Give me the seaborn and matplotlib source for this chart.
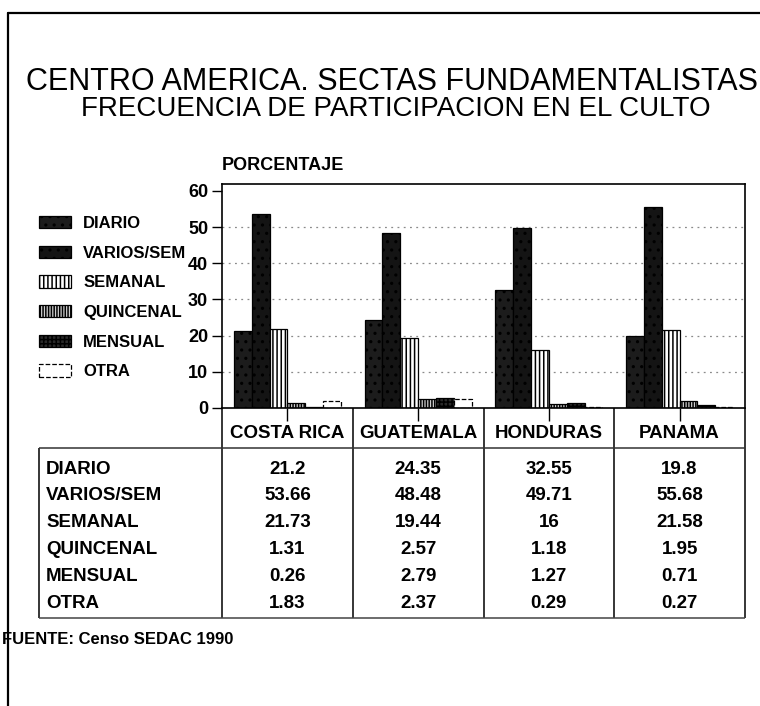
import numpy as np
import pandas as pd
import matplotlib
matplotlib.use("Agg")
import matplotlib.pyplot as plt
import seaborn as sns

# ---------------- data ----------------
paises = ["COSTA RICA", "GUATEMALA", "HONDURAS", "PANAMA"]
frecuencias = ["DIARIO", "VARIOS/SEM", "SEMANAL", "QUINCENAL", "MENSUAL", "OTRA"]
diario = [21.2, 24.35, 32.55, 19.8]
varios_sem = [53.66, 48.48, 49.71, 55.68]
semanal = [21.73, 19.44, 16, 21.58]
quincenal = [1.31, 2.57, 1.18, 1.95]
mensual = [0.26, 2.79, 1.27, 0.71]
otra = [1.83, 2.37, 0.29, 0.27]
y_ticks = [0, 10, 20, 30, 40, 50, 60]

titulo1 = "CENTRO AMERICA. SECTAS FUNDAMENTALISTAS"
titulo2 = "FRECUENCIA DE PARTICIPACION EN EL CULTO"
ylabel = "PORCENTAJE"
fuente = "FUENTE: Censo SEDAC 1990"

series = [diario, varios_sem, semanal, quincenal, mensual, otra]
rows = []
for f, vals in zip(frecuencias, series):
    for p, v in zip(paises, vals):
        rows.append({"pais": p, "freq": f, "pct": v})
df = pd.DataFrame(rows)

# ---------------- style ----------------
sns.set_theme(style="white")
plt.rcParams["font.family"] = ["Liberation Sans", "DejaVu Sans"]
plt.rcParams["hatch.linewidth"] = 1.1
for k in ["text.color", "axes.labelcolor", "xtick.color", "ytick.color",
          "axes.edgecolor"]:
    plt.rcParams[k] = "black"

W, H = 760, 706
fig = plt.figure(figsize=(W / 100, H / 100), dpi=100)
fig.patch.set_facecolor("white")

def fx(px):
    return px / W

def fy(py):
    return 1 - py / H

# page frame (top and left)
fig.add_artist(plt.Line2D([fx(8), 1.0], [fy(13), fy(13)], color="black", lw=1.6))
fig.add_artist(plt.Line2D([fx(8), fx(8)], [fy(13), 0.0], color="black", lw=1.6))

# titles
fig.text(fx(392), fy(82), titulo1, ha="center", va="center", fontsize=22)
fig.text(fx(396), fy(108.5), titulo2, ha="center", va="center", fontsize=20)

# ---------------- bar chart ----------------
ax_l, ax_r, ax_t, ax_b = 222, 745, 184, 408
ax = fig.add_axes([fx(ax_l), fy(ax_b), fx(ax_r - ax_l), (ax_b - ax_t) / H])

styles = {
    "DIARIO":     dict(fc="#1c1c1c", hatch="..", hc="#8a8a8a", ls="-"),
    "VARIOS/SEM": dict(fc="#141414", hatch="..", hc="#777777", ls="-"),
    "SEMANAL":    dict(fc="white", hatch="||||", hc="black", ls="-"),
    "QUINCENAL":  dict(fc="#cfcfcf", hatch="||||||", hc="black", ls="-"),
    "MENSUAL":    dict(fc="#2a2a2a", hatch="++++", hc="#bbbbbb", ls="-"),
    "OTRA":       dict(fc="white", hatch="", hc="black", ls="--"),
}

sns.barplot(data=df, x="pais", y="pct", hue="freq", order=paises,
            hue_order=frecuencias, ax=ax, width=0.82, legend=False,
            palette=["#1c1c1c"] * len(frecuencias), edgecolor="black",
            linewidth=0.9, saturation=1)

for cont, f in zip(ax.containers, frecuencias):
    st = styles[f]
    for p in cont.patches:
        p.set_facecolor(st["fc"])
        p.set_edgecolor("black")
        p.set_hatch(st["hatch"])
        p.set_linestyle(st["ls"])
        try:
            p.set_hatchcolor(st["hc"])
        except AttributeError:
            pass

ax.set_xlim(-0.5, len(paises) - 0.5)
ax.set_ylim(0, 61.9)
ax.set_yticks(y_ticks)
ax.set_yticklabels([str(t) for t in y_ticks], fontsize=13, fontweight="bold")
ax.set_xticks(range(len(paises)))
ax.set_xticklabels([])
ax.set_xlabel("")
ax.set_ylabel("")
ax.tick_params(axis="y", direction="out", length=7, width=1, color="black", pad=3,
               left=True)
ax.tick_params(axis="x", direction="out", length=9, width=1, color="black",
               bottom=True)
for s in ax.spines.values():
    s.set_visible(True)
    s.set_color("black")
    s.set_linewidth(1.2)
ax.set_axisbelow(True)
ax.yaxis.grid(True, linestyle=(0, (1.5, 3.5)), color="#8a8a8a", linewidth=0.9)
gl = ax.get_ygridlines()
gl[0].set_visible(False)
gl[-1].set_visible(False)
ax.xaxis.grid(False)

fig.text(fx(222), fy(166), ylabel, ha="left", va="center", fontsize=13,
         fontweight="bold")

# legend
handles = [c.patches[0] for c in ax.containers]
leg = fig.legend(handles, frecuencias, loc="upper left",
                 bbox_to_anchor=(fx(39), fy(216)), bbox_transform=fig.transFigure,
                 frameon=False, borderpad=0, borderaxespad=0,
                 handlelength=1.9, handleheight=0.75, handletextpad=0.75,
                 labelspacing=0.88, prop={"size": 12, "weight": "bold"})

# ---------------- data table ----------------
tbl_left, tbl_bottom = 39, 618
px_per_cat = (ax_r - ax_l) / len(paises)
row0, pitch = 469, 26.8
tax = fig.add_axes([fx(tbl_left), fy(tbl_bottom), fx(ax_r - tbl_left),
                    (tbl_bottom - ax_b) / H])
x_left = -0.5 - (ax_l - tbl_left) / px_per_cat
tax.set_xlim(x_left, len(paises) - 0.5)
r_top = (ax_b - row0) / pitch
r_bot = (tbl_bottom - row0) / pitch
r_head = (433 - row0) / pitch
r_line = (448 - row0) / pitch
tax.set_ylim(r_bot, r_top)
tax.axis("off")

bounds = np.arange(len(paises) + 1) - 0.5
tax.vlines(bounds, r_top, r_bot, color="black", lw=1.1, clip_on=False)
tax.vlines([x_left], r_line, r_bot, color="black", lw=1.1, clip_on=False)
tax.hlines([r_line], x_left, len(paises) - 0.5, color="#333333", lw=1.1,
           clip_on=False)
tax.hlines([r_bot], x_left, len(paises) - 0.5, color="#444444", lw=1.1,
           clip_on=False)

for j, p in enumerate(paises):
    tax.text(j, r_head, p, ha="center", va="center", fontsize=13.5,
             fontweight="bold")
for i, (f, vals) in enumerate(zip(frecuencias, series)):
    tax.text(x_left + 7 / px_per_cat, i, f, ha="left", va="center",
             fontsize=13.5, fontweight="bold")
    for j, v in enumerate(vals):
        tax.text(j, i, f"{v:g}", ha="center", va="center", fontsize=13.5,
                 fontweight="bold")

fig.text(fx(2), fy(639), fuente, ha="left", va="center", fontsize=12,
         fontweight="bold")

fig.savefig("out.png", dpi=100, facecolor="white")
